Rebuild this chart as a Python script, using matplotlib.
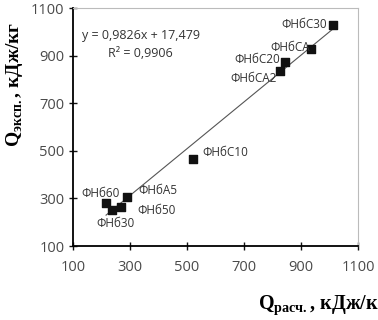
import matplotlib
matplotlib.use("Agg")
import matplotlib.pyplot as plt
import numpy as np

# data
names = ["ФНбС30", "ФНбСА", "ФНбС20", "ФНбСА2", "ФНбС10",
         "ФНбА5", "ФНб60", "ФНб30", "ФНб50"]
q_calc = [1012, 935, 844, 826, 521, 289, 216, 237, 268]
q_exp = [1029, 928, 873, 835, 466, 306, 281, 251, 264]
slope, intercept = 0.9826, 17.479
ticks = [100, 300, 500, 700, 900, 1100]

# label offsets in points (dx, dy) and alignment
offsets = {
    "ФНбС30": (-4.5, 0, "right"),
    "ФНбСА": (-0.5, 1, "right"),
    "ФНбС20": (-3.5, 1.5, "right"),
    "ФНбСА2": (-2, -5, "right"),
    "ФНбС10": (7, 4.5, "left"),
    "ФНбА5": (8, 4.5, "left"),
    "ФНб50": (12, -2.5, "left"),
    "ФНб60": (10, 7, "right"),
    "ФНб30": (-11.5, -10, "left"),
}

plt.rcParams["font.family"] = ["Open Sans", "DejaVu Sans"]
plt.rcParams["mathtext.fontset"] = "custom"
plt.rcParams["mathtext.bf"] = "Liberation Serif:bold"
plt.rcParams["mathtext.rm"] = "Liberation Serif"

fig = plt.figure(figsize=(3.78, 3.2), dpi=100)
ax = fig.add_axes([73 / 378, 1 - 246 / 320, 285 / 378, 238 / 320])

xs = np.array([min(q_calc), max(q_calc)])
ax.plot(xs, slope * xs + intercept, color="#555555", lw=0.8, zorder=1)
ax.scatter(q_calc, q_exp, marker="s", s=34, color="#111111", zorder=2)

for n, x, y in zip(names, q_calc, q_exp):
    dx, dy, ha = offsets[n]
    ax.annotate(n, (x, y), xytext=(dx, dy), textcoords="offset points",
                ha=ha, va="center", fontsize=8.5, color="#333333")

ax.text(0.237, 0.847, "y = 0,9826x + 17,479\nR² = 0,9906", transform=ax.transAxes,
        ha="center", va="center", fontsize=9, color="#333333", linespacing=1.5)

ax.set_xlim(100, 1100)
ax.set_ylim(100, 1100)
ax.set_xticks(ticks)
ax.set_yticks(ticks)
ax.tick_params(direction="inout", length=6, width=1, colors="#111111",
               labelcolor="#4a4a4a", labelsize=10.5)
ax.tick_params(axis="x", pad=7)
ax.tick_params(axis="y", pad=3)
ax.spines["left"].set_linewidth(1.3)
ax.spines["bottom"].set_linewidth(1.3)
for s in ["top", "right"]:
    ax.spines[s].set_color("#bbbbbb")
    ax.spines[s].set_linewidth(0.8)

fig.text(15 / 378, 1 - 84 / 320, r"Q$_{\mathbf{эксп.}}$, кДж/кг", rotation=90,
         ha="center", va="center", fontsize=14, fontweight="bold",
         family="Liberation Serif")
fig.text(258 / 378, 1 - 305 / 320, r"Q$_{\mathbf{расч.}}$, кДж/кг",
         ha="left", va="center", fontsize=14.5, fontweight="bold",
         family="Liberation Serif")

fig.savefig("out.png", dpi=100)
